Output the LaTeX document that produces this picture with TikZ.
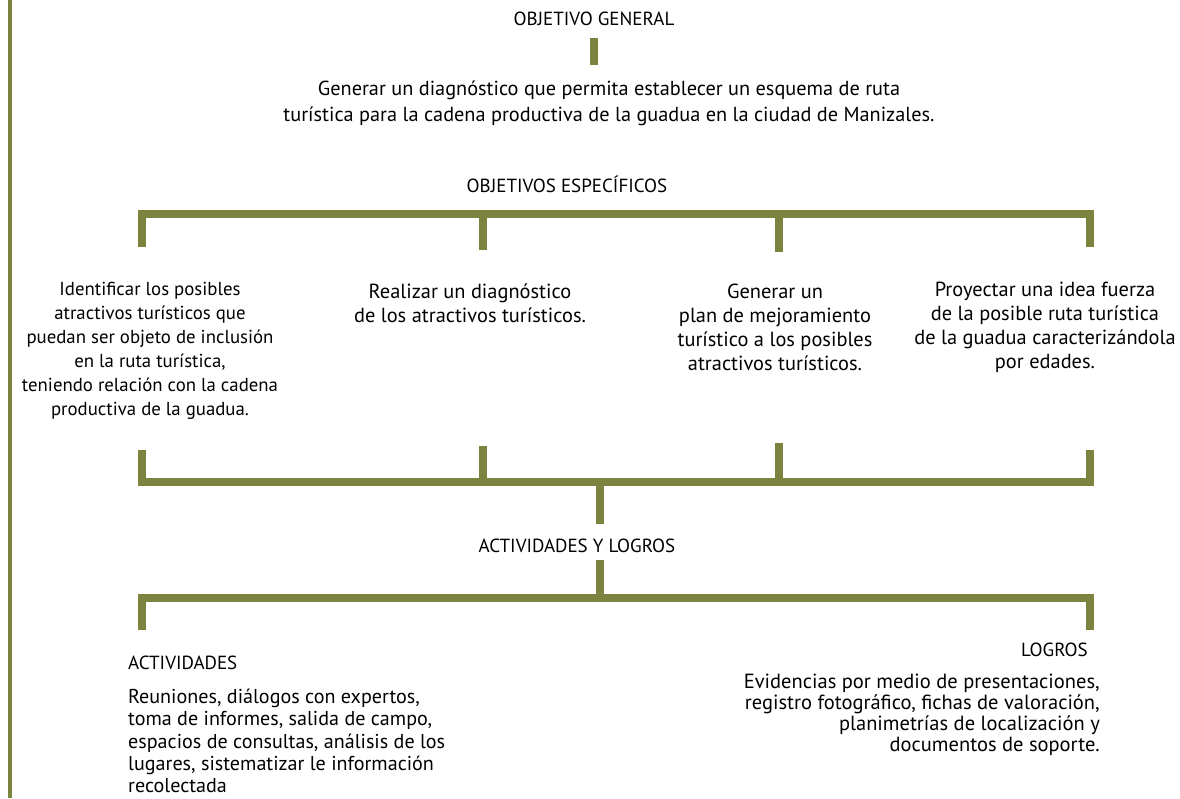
\documentclass[tikz,border=0pt]{standalone}
\usepackage{fontspec}
\setmainfont{PT Sans}
\usepackage{tikz}
\usetikzlibrary{positioning}

\definecolor{guadua}{RGB}{123,131,62}

\begin{document}
\begin{tikzpicture}[x=1pt,y=-1pt,
	bar/.style={draw=guadua,line width=8pt},
	titulo/.style={font=\fontsize{19}{22}\selectfont,inner sep=0pt},
	cuerpo/.style={font=\fontsize{20.4}{24}\selectfont,align=center,inner sep=0pt}]
	\useasboundingbox (0,0) rectangle (1180,798);
	\draw[guadua,line width=4pt] (10,0) -- (10,798);

	% objetivo general
	\node[titulo] (objgen) at (594,19) {OBJETIVO GENERAL};
	\node[cuerpo,font=\fontsize{20.3}{26}\selectfont] (gentext) at (609,103)
		{Generar un diagnóstico que permita establecer un esquema de ruta\\
		turística para la cadena productiva de la guadua en la ciudad de Manizales.};
	\coordinate (g1) at (594,38);
	\coordinate (g2) at (594,65);
	\draw[bar] (g1) -- (g2);

	% objetivos especificos
	\node[titulo] (objesp) at (567,184) {OBJETIVOS ESPECÍFICOS};
	\coordinate (b1) at (142,214);
	\coordinate (b2) at (483,214);
	\coordinate (b3) at (779,214);
	\coordinate (b4) at (1090,214);
	\coordinate (d1) at (142,247);
	\coordinate (d2) at (483,250);
	\coordinate (d3) at (779,252);
	\coordinate (d4) at (1090,247);
	\draw[bar] (d1) -- (b1) -- (b4) -- (d4);
	\draw[bar] (b2) -- (d2);
	\draw[bar] (b3) -- (d3);

	\node[cuerpo,font=\fontsize{18.8}{24}\selectfont] (esp1) at (150,351)
		{Identificar los posibles\\ atractivos turísticos que\\
		puedan ser objeto de inclusión\\ en la ruta turística,\\
		teniendo relación con la cadena\\ productiva de la guadua.};
	\node[cuerpo] (esp2) at (470,303)
		{Realizar un diagnóstico\\ de los atractivos turísticos.};
	\node[cuerpo] (esp3) at (775,327)
		{Generar un\\ plan de mejoramiento\\ turístico a los posibles\\ atractivos turísticos.};
	\node[cuerpo] (esp4) at (1045,327)
		{Proyectar una idea fuerza\\ de la posible ruta turística\\
		de la guadua caracterizándola\\ por edades.};

	% cierre de objetivos
	\coordinate (c1) at (142,482);
	\coordinate (c2) at (483,482);
	\coordinate (c3) at (779,482);
	\coordinate (c4) at (1090,482);
	\coordinate (u1) at (142,450);
	\coordinate (u2) at (483,446);
	\coordinate (u3) at (779,443);
	\coordinate (u4) at (1090,450);
	\draw[bar] (u1) -- (c1) -- (c4) -- (u4);
	\draw[bar] (u2) -- (c2);
	\draw[bar] (u3) -- (c3);
	\coordinate (m1) at (600,486);
	\coordinate (m2) at (600,524);
	\draw[bar] (m1) -- (m2);

	% actividades y logros
	\node[titulo] (actlog) at (577,546) {ACTIVIDADES Y LOGROS};
	\coordinate (m3) at (600,560);
	\coordinate (m4) at (600,598);
	\draw[bar] (m3) -- (m4);
	\coordinate (a1) at (142,630);
	\coordinate (a2) at (142,598);
	\coordinate (a3) at (1090,598);
	\coordinate (a4) at (1090,630);
	\draw[bar] (a1) -- (a2) -- (a3) -- (a4);

	\node[titulo,anchor=west] (acttitle) at (128,663) {ACTIVIDADES};
	\node[cuerpo,font=\fontsize{20.1}{22.2}\selectfont,align=left,anchor=north west] (acttext) at (128,689)
		{Reuniones, diálogos con expertos,\\ toma de informes, salida de campo,\\
		espacios de consultas, análisis de los\\ lugares, sistematizar le información\\
		recolectada};
	\node[titulo,anchor=east] (logtitle) at (1088,650) {LOGROS};
	\node[cuerpo,font=\fontsize{20.5}{21}\selectfont,align=right,anchor=north east] (logtext) at (1100,674)
		{Evidencias por medio de presentaciones,\\ registro fotográfico, fichas de valoración,\\
		planimetrías de localización y\\ documentos de soporte.};
\end{tikzpicture}
\end{document}
